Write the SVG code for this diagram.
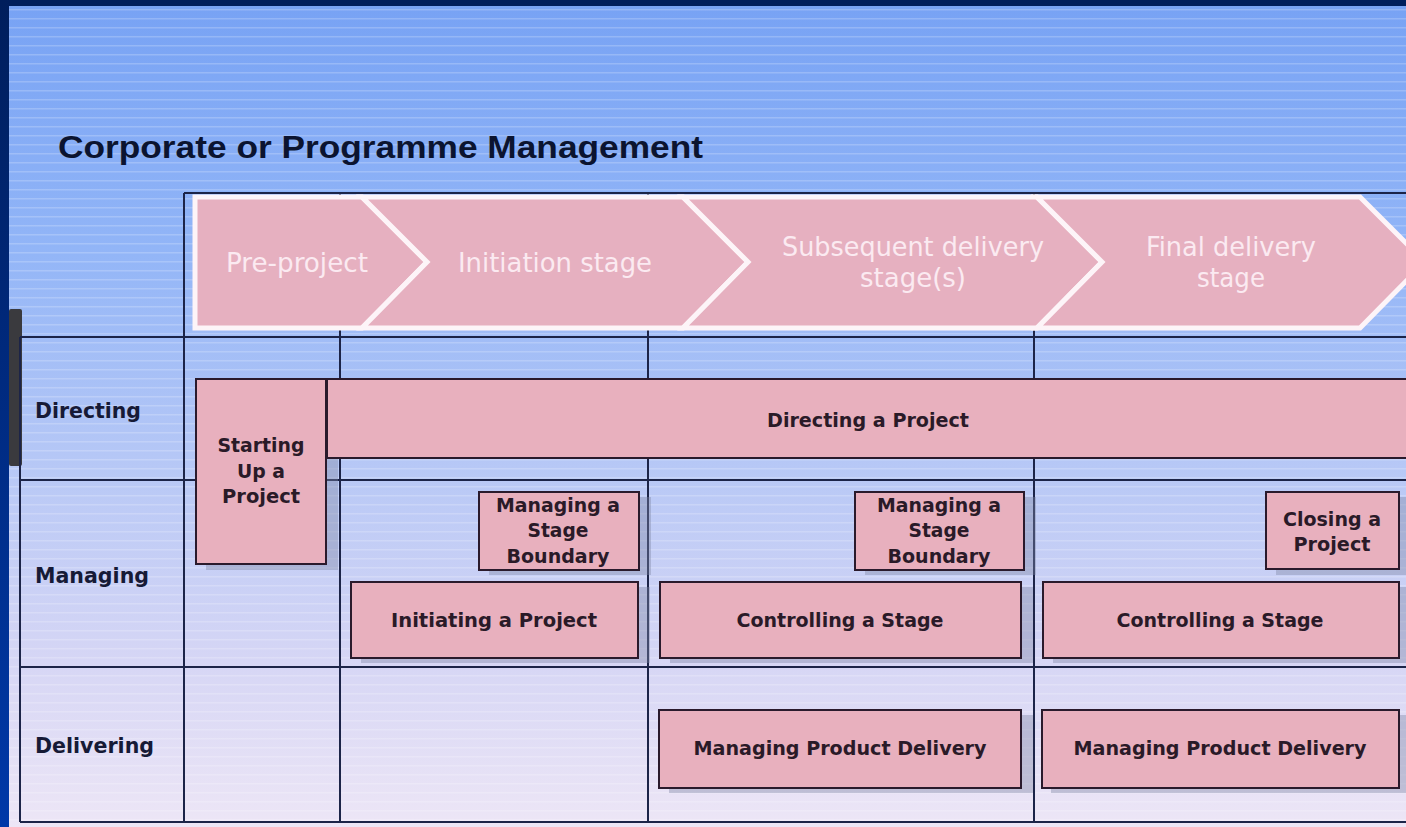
<svg xmlns="http://www.w3.org/2000/svg" width="1406" height="827" viewBox="0 0 1406 827">
<defs>
<linearGradient id="bg" x1="0" y1="0" x2="0" y2="1">
<stop offset="0" stop-color="#77a2f4"/>
<stop offset="0.3" stop-color="#92b5f7"/>
<stop offset="0.55" stop-color="#b5c7f6"/>
<stop offset="0.8" stop-color="#d6d6f5"/>
<stop offset="1" stop-color="#ede6f6"/>
</linearGradient>
<linearGradient id="side" x1="0" y1="0" x2="0" y2="1">
<stop offset="0" stop-color="#001e5c"/>
<stop offset="1" stop-color="#0038a8"/>
</linearGradient>
<pattern id="stripes" width="12" height="9" patternUnits="userSpaceOnUse">
<rect x="0" y="0" width="12" height="1.5" fill="#ffffff" opacity="0.2"/>
</pattern>
<style>
.grid{stroke:#1c2448;stroke-width:2;fill:none}
.chev{fill:#e6b0c0;stroke:#fdf4f8;stroke-width:5;stroke-linejoin:miter}
.ct{font-family:"DejaVu Sans Condensed","DejaVu Sans",sans-serif;font-size:27px;fill:#fbeaf1;text-anchor:middle}
.box{fill:#e8b0be;stroke:#2a1a2c;stroke-width:2}
.sh{fill:#7f88a4;opacity:0.4}
.bt{font-family:"DejaVu Sans",Verdana,sans-serif;font-weight:bold;font-size:19px;fill:#2a1a28;text-anchor:middle}
.rl{font-family:"DejaVu Sans",Verdana,sans-serif;font-weight:bold;font-size:21px;fill:#161a36}
.title{font-family:"Liberation Sans",Arial,sans-serif;font-weight:bold;font-size:32px;fill:#0b1430}
</style>
</defs>
<rect x="0" y="0" width="1406" height="827" fill="url(#bg)"/>
<rect x="0" y="0" width="1406" height="827" fill="url(#stripes)"/>
<rect x="0" y="0" width="1406" height="6" fill="#001e5c"/>
<rect x="0" y="0" width="9" height="827" fill="url(#side)"/>
<rect x="9" y="309" width="13" height="157" rx="2" fill="#3a3a3e"/>

<text class="title" x="58" y="158" textLength="645" lengthAdjust="spacingAndGlyphs">Corporate or Programme Management</text>

<g id="grid">
<line class="grid" x1="184" y1="193" x2="1406" y2="193"/>
<line class="grid" x1="20" y1="337" x2="1406" y2="337"/>
<line class="grid" x1="20" y1="480" x2="1406" y2="480"/>
<line class="grid" x1="20" y1="667" x2="1406" y2="667"/>
<line class="grid" x1="20" y1="822" x2="1406" y2="822"/>
<line class="grid" x1="20" y1="337" x2="20" y2="822"/>
<line class="grid" x1="184" y1="193" x2="184" y2="822"/>
<line class="grid" x1="340" y1="193" x2="340" y2="822"/>
<line class="grid" x1="648" y1="193" x2="648" y2="822"/>
<line class="grid" x1="1034" y1="193" x2="1034" y2="822"/>
</g>

<g id="stages">
<g id="stage-preproject">
<polygon class="chev" points="195,197 362,197 427,262 362,328 195,328"/>
<text class="ct" x="297" y="272" textLength="142" lengthAdjust="spacingAndGlyphs">Pre-project</text>
</g>
<g id="stage-initiation">
<polygon class="chev" points="362,197 683,197 748,262 683,328 362,328 427,262"/>
<text class="ct" x="555" y="272" textLength="194" lengthAdjust="spacingAndGlyphs">Initiation stage</text>
</g>
<g id="stage-subsequent">
<polygon class="chev" points="683,197 1037,197 1102,262 1037,328 683,328 748,262"/>
<text class="ct" x="913" y="256" textLength="262" lengthAdjust="spacingAndGlyphs">Subsequent delivery</text>
<text class="ct" x="913" y="287" textLength="106" lengthAdjust="spacingAndGlyphs">stage(s)</text>
</g>
<g id="stage-final">
<polygon class="chev" points="1037,197 1360,197 1425,262 1360,328 1037,328 1102,262"/>
<text class="ct" x="1231" y="256" textLength="170" lengthAdjust="spacingAndGlyphs">Final delivery</text>
<text class="ct" x="1231" y="287" textLength="68" lengthAdjust="spacingAndGlyphs">stage</text>
</g>
</g>

<g id="row-labels">
<text class="rl" x="35" y="418" textLength="106" lengthAdjust="spacingAndGlyphs">Directing</text>
<text class="rl" x="35" y="583" textLength="114" lengthAdjust="spacingAndGlyphs">Managing</text>
<text class="rl" x="35" y="753" textLength="119" lengthAdjust="spacingAndGlyphs">Delivering</text>
</g>

<g id="shadows">
<rect class="sh" x="206" y="384" width="132" height="186"/>
<rect class="sh" x="489" y="497" width="162" height="78"/>
<rect class="sh" x="361" y="587" width="289" height="76"/>
<rect class="sh" x="865" y="497" width="171" height="78"/>
<rect class="sh" x="670" y="587" width="363" height="76"/>
<rect class="sh" x="1276" y="497" width="134" height="78"/>
<rect class="sh" x="1053" y="587" width="358" height="76"/>
<rect class="sh" x="669" y="715" width="364" height="78"/>
<rect class="sh" x="1051" y="715" width="360" height="78"/>
</g>

<g id="node-directing">
<rect class="box" x="327" y="379" width="1090" height="79"/>
<text class="bt" x="868" y="427" textLength="202" lengthAdjust="spacingAndGlyphs">Directing a Project</text>
</g>
<g id="node-starting">
<rect class="box" x="196" y="379" width="130" height="185"/>
<text class="bt" x="261" y="452" textLength="87" lengthAdjust="spacingAndGlyphs">Starting</text>
<text class="bt" x="261" y="478" textLength="48" lengthAdjust="spacingAndGlyphs">Up a</text>
<text class="bt" x="261" y="503" textLength="78" lengthAdjust="spacingAndGlyphs">Project</text>
</g>
<g id="node-msb1">
<rect class="box" x="479" y="492" width="160" height="78"/>
<text class="bt" x="558" y="512" textLength="124" lengthAdjust="spacingAndGlyphs">Managing a</text>
<text class="bt" x="558" y="537" textLength="61" lengthAdjust="spacingAndGlyphs">Stage</text>
<text class="bt" x="558" y="563" textLength="103" lengthAdjust="spacingAndGlyphs">Boundary</text>
</g>
<g id="node-initiating">
<rect class="box" x="351" y="582" width="287" height="76"/>
<text class="bt" x="494" y="627" textLength="206" lengthAdjust="spacingAndGlyphs">Initiating a Project</text>
</g>
<g id="node-msb2">
<rect class="box" x="855" y="492" width="169" height="78"/>
<text class="bt" x="939" y="512" textLength="124" lengthAdjust="spacingAndGlyphs">Managing a</text>
<text class="bt" x="939" y="537" textLength="61" lengthAdjust="spacingAndGlyphs">Stage</text>
<text class="bt" x="939" y="563" textLength="103" lengthAdjust="spacingAndGlyphs">Boundary</text>
</g>
<g id="node-controlling1">
<rect class="box" x="660" y="582" width="361" height="76"/>
<text class="bt" x="840" y="627" textLength="207" lengthAdjust="spacingAndGlyphs">Controlling a Stage</text>
</g>
<g id="node-closing">
<rect class="box" x="1266" y="492" width="133" height="77"/>
<text class="bt" x="1332" y="526" textLength="98" lengthAdjust="spacingAndGlyphs">Closing a</text>
<text class="bt" x="1332" y="551" textLength="77" lengthAdjust="spacingAndGlyphs">Project</text>
</g>
<g id="node-controlling2">
<rect class="box" x="1043" y="582" width="356" height="76"/>
<text class="bt" x="1220" y="627" textLength="207" lengthAdjust="spacingAndGlyphs">Controlling a Stage</text>
</g>
<g id="node-mpd1">
<rect class="box" x="659" y="710" width="362" height="78"/>
<text class="bt" x="840" y="755" textLength="293" lengthAdjust="spacingAndGlyphs">Managing Product Delivery</text>
</g>
<g id="node-mpd2">
<rect class="box" x="1042" y="710" width="357" height="78"/>
<text class="bt" x="1220" y="755" textLength="293" lengthAdjust="spacingAndGlyphs">Managing Product Delivery</text>
</g>

<g id="connectors"></g>
</svg>
